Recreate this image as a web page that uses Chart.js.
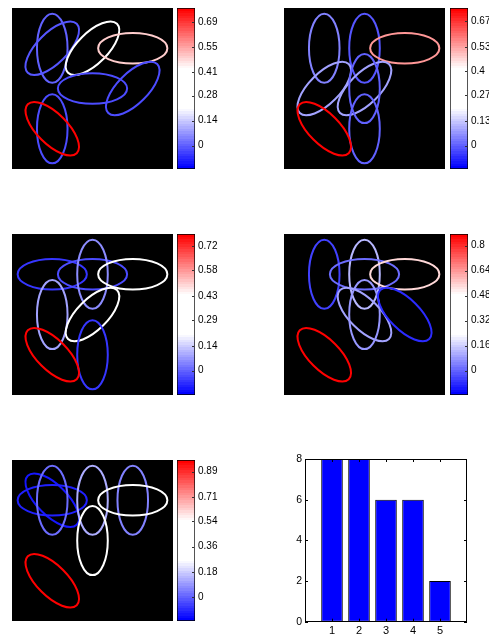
<!DOCTYPE html>
<html>
<head>
<meta charset="utf-8">
<script src="https://cdn.jsdelivr.net/npm/chart.js@4.4.0/dist/chart.umd.min.js"></script>
<style>
  body { margin: 0; width: 489px; height: 637px; overflow: hidden; background: #fff; position: relative; }
  canvas { position: absolute; }
</style>
</head>
<body>
<script>
// --- DATA ---
// ellipse rows: [centre x, centre y, orientation in degrees, value]
const ellipses1 = [
  [25, 25, 90, 0.00], [25, 25, 45, -0.01], [50, 25, 45, 0.33], [75, 25, 0, 0.49],
  [50, 50, 0, -0.02], [75, 50, 45, -0.03], [25, 75, 90, -0.03], [25, 75, 135, 0.77]
];
const ellipses2 = [
  [25, 25, 90, 0.04], [50, 25, 90, -0.01], [75, 25, 0, 0.55], [25, 50, 45, 0.08],
  [50, 50, 45, 0.09], [50, 50, 90, 0.00], [50, 75, 90, 0.00], [25, 75, 135, 0.74]
];
const ellipses3 = [
  [25, 25, 0, -0.06], [50, 25, 0, -0.03], [50, 25, 90, 0.06], [75, 25, 0, 0.32],
  [25, 50, 90, 0.08], [50, 50, 45, 0.33], [50, 75, 90, -0.06], [25, 75, 135, 0.79]
];
const ellipses4 = [
  [25, 25, 90, -0.05], [50, 25, 90, 0.12], [50, 25, 0, 0.01], [75, 25, 0, 0.55],
  [50, 50, 135, 0.10], [50, 50, 90, 0.07], [75, 50, 135, -0.09], [25, 75, 135, 0.87]
];
const ellipses5 = [
  [25, 25, 135, -0.13], [25, 25, 0, -0.10], [25, 25, 90, 0.02], [50, 25, 90, 0.12],
  [75, 25, 90, 0.05], [75, 25, 0, 0.40], [50, 50, 90, 0.40], [25, 75, 135, 0.97]
];

// colour limits of each panel
const colorLimits = [[-0.131, 0.77], [-0.126, 0.74], [-0.141, 0.788], [-0.157, 0.875], [-0.167, 0.973]];

// colorbar tick labels
const cbTicks1 = ['0', '0.14', '0.28', '0.41', '0.55', '0.69'];
const cbTicks2 = ['0', '0.13', '0.27', '0.4', '0.53', '0.67'];
const cbTicks3 = ['0', '0.14', '0.29', '0.43', '0.58', '0.72'];
const cbTicks4 = ['0', '0.16', '0.32', '0.48', '0.64', '0.8'];
const cbTicks5 = ['0', '0.18', '0.36', '0.54', '0.71', '0.89'];

// bar chart
const barCategories = [1, 2, 3, 4, 5];
const barValues = [8, 8, 6, 6, 2];
const barYTicks = [0, 2, 4, 6, 8];

const allEllipses = [ellipses1, ellipses2, ellipses3, ellipses4, ellipses5];
const allTicks = [cbTicks1, cbTicks2, cbTicks3, cbTicks4, cbTicks5];

Chart.defaults.font.family = '"Liberation Sans", Arial, Helvetica, sans-serif';
Chart.defaults.color = '#000';

// --- HELPERS ---
// blue - white - red map, 64 levels like matlab
function cmap(t) {
  t = Math.max(0, Math.min(1, t));
  t = Math.min(63, Math.floor(t * 64)) / 63;
  let r, g, b;
  if (t < 0.375) { r = g = 255 * t / 0.375; b = 255; }
  else if (t <= 0.625) { r = g = b = 255; }
  else { r = 255; g = b = 255 * (1 - t) / 0.375; }
  return `rgb(${Math.round(r)},${Math.round(g)},${Math.round(b)})`;
}

function makeCanvas(left, top, w, h) {
  const c = document.createElement('canvas');
  c.width = w; c.height = h;
  c.style.left = left + 'px'; c.style.top = top + 'px';
  c.style.width = w + 'px'; c.style.height = h + 'px';
  document.body.appendChild(c);
  return c;
}

// drop the label overhang padding chart.js adds around an axis
function noPad(s) {
  s.paddingTop = 0; s.paddingBottom = 0; s.paddingLeft = 0; s.paddingRight = 0;
}

const ELL_MAJOR = 21.5; // in data units of a 0-100 image
const ELL_MINOR = 9.5;

const ellipsePlugin = {
  id: 'ellipses',
  beforeDraw(chart) {
    const { ctx, chartArea: a } = chart;
    ctx.save();
    ctx.fillStyle = '#000';
    ctx.fillRect(a.left, a.top, a.width, a.height);
    ctx.restore();
  },
  afterDatasetsDraw(chart) {
    const { ctx, chartArea: a } = chart;
    const xs = chart.scales.x;
    const unit = Math.abs(xs.getPixelForValue(1) - xs.getPixelForValue(0));
    const ds = chart.data.datasets[0];
    const meta = chart.getDatasetMeta(0);
    ctx.save();
    ctx.beginPath();
    ctx.rect(a.left, a.top, a.width, a.height);
    ctx.clip();
    meta.data.forEach((pt, i) => {
      const d = ds.data[i];
      ctx.beginPath();
      ctx.ellipse(pt.x, pt.y, ELL_MAJOR * unit, ELL_MINOR * unit, -d.angle * Math.PI / 180, 0, 2 * Math.PI);
      ctx.strokeStyle = d.color;
      ctx.lineWidth = 2;
      ctx.stroke();
    });
    ctx.restore();
  }
};

const cbTickPlugin = {
  id: 'cbTicks',
  afterDraw(chart) {
    const { ctx, chartArea: a } = chart;
    const ys = chart.scales.y;
    ctx.save();
    ctx.strokeStyle = '#333';
    ctx.lineWidth = 1;
    ys.ticks.forEach(t => {
      const y = Math.round(ys.getPixelForValue(t.value)) + 0.5;
      ctx.beginPath();
      ctx.moveTo(a.right - 3, y);
      ctx.lineTo(a.right - 1, y);
      ctx.stroke();
    });
    ctx.restore();
  }
};

// --- PANELS ---
const panelPos = [
  { left: 12, top: 8, cb: 177 },
  { left: 284, top: 8, cb: 450 },
  { left: 12, top: 234, cb: 177 },
  { left: 284, top: 234, cb: 450 },
  { left: 12, top: 460, cb: 177 }
];
const IMG = 161;
const CB_W = 18;
const CB_CANVAS_W = 70;

allEllipses.forEach((rows, p) => {
  const [lo, hi] = colorLimits[p];
  const pos = panelPos[p];

  const points = rows.map(r => ({
    x: r[0], y: r[1], angle: r[2],
    color: cmap((r[3] - lo) / (hi - lo))
  }));

  new Chart(makeCanvas(pos.left, pos.top, IMG, IMG), {
    type: 'scatter',
    data: { datasets: [{ data: points, pointRadius: 0 }] },
    options: {
      responsive: false,
      animation: false,
      events: [],
      layout: { padding: 0 },
      plugins: { legend: { display: false }, tooltip: { enabled: false } },
      scales: {
        x: { type: 'linear', min: 0, max: 100, display: false },
        y: { type: 'linear', min: 0, max: 100, reverse: true, display: false }
      }
    },
    plugins: [ellipsePlugin]
  });

  const labels = allTicks[p];
  new Chart(makeCanvas(pos.cb, pos.top, CB_CANVAS_W, IMG), {
    type: 'bar',
    data: {
      labels: [''],
      datasets: [{
        data: [[lo, hi]],
        backgroundColor: (c) => {
          const chart = c.chart;
          if (!chart.chartArea) return '#fff';
          const ys = chart.scales.y;
          const y0 = ys.getPixelForValue(lo);
          const y1 = ys.getPixelForValue(hi);
          const g = chart.ctx.createLinearGradient(0, y0, 0, y1);
          for (let k = 0; k < 64; k++) {
            const col = cmap((k + 0.5) / 64);
            g.addColorStop(k / 64, col);
            g.addColorStop((k + 1) / 64, col);
          }
          return g;
        },
        borderColor: '#000',
        borderWidth: 1,
        borderSkipped: false,
        barPercentage: 1,
        categoryPercentage: 1
      }]
    },
    options: {
      responsive: false,
      animation: false,
      events: [],
      layout: { padding: 0 },
      plugins: { legend: { display: false }, tooltip: { enabled: false } },
      scales: {
        x: { display: false },
        y: {
          position: 'right',
          min: lo, max: hi,
          grid: { display: false, drawTicks: false },
          border: { display: false },
          afterFit(s) { s.width = CB_CANVAS_W - CB_W; noPad(s); },
          afterBuildTicks(s) { s.ticks = labels.map(l => ({ value: parseFloat(l) })); },
          ticks: {
            padding: 3,
            font: { size: 10 },
            callback: (v, i) => labels[i]
          }
        }
      }
    },
    plugins: [cbTickPlugin]
  });
});

// --- BAR CHART ---
const boxPlugin = {
  id: 'box',
  afterDraw(chart) {
    const { ctx, chartArea: a, scales } = chart;
    ctx.save();
    ctx.strokeStyle = '#000';
    ctx.lineWidth = 1;
    ctx.strokeRect(Math.round(a.left) + 0.5, Math.round(a.top) + 0.5,
      Math.round(a.width) - 1, Math.round(a.height) - 1);
    const tl = 3;
    scales.y.ticks.forEach(t => {
      const y = Math.round(scales.y.getPixelForValue(t.value)) + 0.5;
      ctx.beginPath();
      ctx.moveTo(a.left, y); ctx.lineTo(a.left + tl, y);
      ctx.moveTo(a.right, y); ctx.lineTo(a.right - tl, y);
      ctx.stroke();
    });
    scales.x.ticks.forEach(t => {
      const x = Math.round(scales.x.getPixelForValue(t.value)) + 0.5;
      ctx.beginPath();
      ctx.moveTo(x, a.bottom); ctx.lineTo(x, a.bottom - tl);
      ctx.moveTo(x, a.top); ctx.lineTo(x, a.top + tl);
      ctx.stroke();
    });
    ctx.restore();
  }
};

const BAR_W = 199, BAR_H = 187;
new Chart(makeCanvas(290, 450, BAR_W, BAR_H), {
  type: 'bar',
  data: {
    datasets: [{
      data: barCategories.map((c, i) => ({ x: c, y: barValues[i] })),
      backgroundColor: '#0000ff',
      borderColor: '#000',
      borderWidth: 1,
      borderSkipped: false,
      barPercentage: 0.8,
      categoryPercentage: 1
    }]
  },
  options: {
    responsive: false,
    animation: false,
    events: [],
    layout: { padding: { top: 9, right: 22, left: 0, bottom: 0 } },
    plugins: { legend: { display: false }, tooltip: { enabled: false } },
    scales: {
      x: {
        type: 'linear', min: 0, max: 6, offset: false,
        grid: { display: false, drawTicks: false }, border: { display: false },
        afterFit(s) { s.height = 15.3; noPad(s); },
        afterBuildTicks(s) { s.ticks = barCategories.map(v => ({ value: v })); },
        ticks: { padding: 3, font: { size: 11 }, maxRotation: 0, autoSkip: false }
      },
      y: {
        min: 0, max: 8,
        grid: { display: false, drawTicks: false }, border: { display: false },
        afterFit(s) { s.width = 15; noPad(s); },
        afterBuildTicks(s) { s.ticks = barYTicks.map(v => ({ value: v })); },
        ticks: { padding: 3, font: { size: 10.5 } }
      }
    }
  },
  plugins: [boxPlugin]
});
</script>
</body>
</html>
